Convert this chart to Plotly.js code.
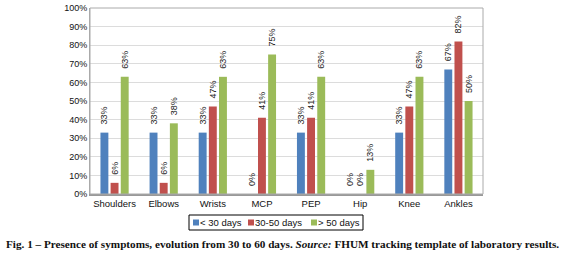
<!DOCTYPE html>
<html>
<head>
<meta charset="utf-8">
<script src="https://cdn.plot.ly/plotly-3.0.1.min.js"></script>
<style>
html,body{margin:0;padding:0;background:#fff;}
#chart{width:565px;height:253px;}
</style>
</head>
<body>
<div id="chart"></div>
<script>
const categories = ["Shoulders","Elbows","Wrists","MCP","PEP","Hip","Knee","Ankles"];
const seriesNames = ["< 30 days","30-50 days","> 50 days"];
const under30 = [33,33,33,0,33,0,33,67];
const from30to50 = [6,6,47,41,41,0,47,82];
const over50 = [63,38,63,75,63,13,63,50];
const colors = ["#4F81BD","#C0504D","#9BBB59"];
const yTickVals = [0,10,20,30,40,50,60,70,80,90,100];
const yTickText = yTickVals.map(v => v + "%");
const caption = "<b>Fig. 1 – Presence of symptoms, evolution from 30 to 60 days. <i>Source:</i> FHUM tracking template of laboratory results.</b>";

// plot area in pixels
const PL = 90, PR = 483, PT = 8, PB = 194;
const px = p => (p - PL) / (PR - PL);
const py = p => (PB - p) / (PB - PT);

const allSeries = [under30, from30to50, over50];
const traces = allSeries.map((vals, i) => ({
  type: "bar",
  name: seriesNames[i],
  x: categories,
  y: vals,
  marker: {color: colors[i]},
  text: vals.map(v => "\u00a0\u00a0" + v + "%"),
  textposition: "outside",
  textangle: -90,
  constraintext: "none",
  cliponaxis: false,
  textfont: {family: "Arial, Liberation Sans, sans-serif", size: 9, color: "#222"},
  hoverinfo: "none",
  showlegend: false
}));

// custom compact legend (swatches + labels)
const legendBox = {x0: 189, x1: 363, y0: 215, y1: 230};
const swatchX = [193, 248, 311];
const labelX = [198, 253, 316];
const shapes = [
  {type: "rect", xref: "paper", yref: "paper", x0: 0, x1: 1, y0: 0, y1: 1,
   line: {color: "#aaa", width: 1}, fillcolor: "rgba(0,0,0,0)", layer: "above"},
  {type: "rect", xref: "paper", yref: "paper",
   x0: px(legendBox.x0), x1: px(legendBox.x1), y0: py(legendBox.y1), y1: py(legendBox.y0),
   line: {color: "#000", width: 1}, fillcolor: "rgba(0,0,0,0)"}
];
const annotations = [];
seriesNames.forEach((name, i) => {
  shapes.push({type: "rect", xref: "paper", yref: "paper",
    x0: px(swatchX[i]), x1: px(swatchX[i] + 6), y0: py(225.5), y1: py(219.5),
    line: {width: 0}, fillcolor: colors[i]});
  annotations.push({xref: "paper", yref: "paper", x: px(labelX[i]), y: py(222.5),
    xanchor: "left", yanchor: "middle", showarrow: false, text: name,
    font: {family: "Arial, Liberation Sans, sans-serif", size: 9.5, color: "#111"}});
});
annotations.push({
  xref: "paper", yref: "paper",
  x: px(282), y: py(244),
  xanchor: "center", yanchor: "middle",
  showarrow: false,
  text: caption,
  font: {family: "Liberation Serif, DejaVu Serif, serif", size: 11.2, color: "#111"}
});

const layout = {
  width: 565, height: 253,
  margin: {l: PL, r: 565 - PR, t: PT, b: 253 - PB},
  paper_bgcolor: "#fff", plot_bgcolor: "#fff",
  barmode: "group",
  bargap: 0.38,
  bargroupgap: 0.22,
  showlegend: false,
  font: {family: "Arial, Liberation Sans, sans-serif", size: 9, color: "#222"},
  xaxis: {
    type: "category",
    showgrid: false,
    showline: true, linecolor: "#999", linewidth: 2,
    ticks: "", tickfont: {size: 9.5, color: "#111"}
  },
  yaxis: {
    range: [0, 100],
    tickvals: yTickVals, ticktext: yTickText,
    showgrid: true, gridcolor: "#dcdcdc", gridwidth: 1,
    showline: true, linecolor: "#aaa", linewidth: 1,
    ticks: "", tickfont: {size: 9, color: "#111"},
    zeroline: false, fixedrange: true
  },
  shapes: shapes,
  annotations: annotations
};

Plotly.newPlot("chart", traces, layout, {displayModeBar: false, staticPlot: true});
</script>
</body>
</html>
